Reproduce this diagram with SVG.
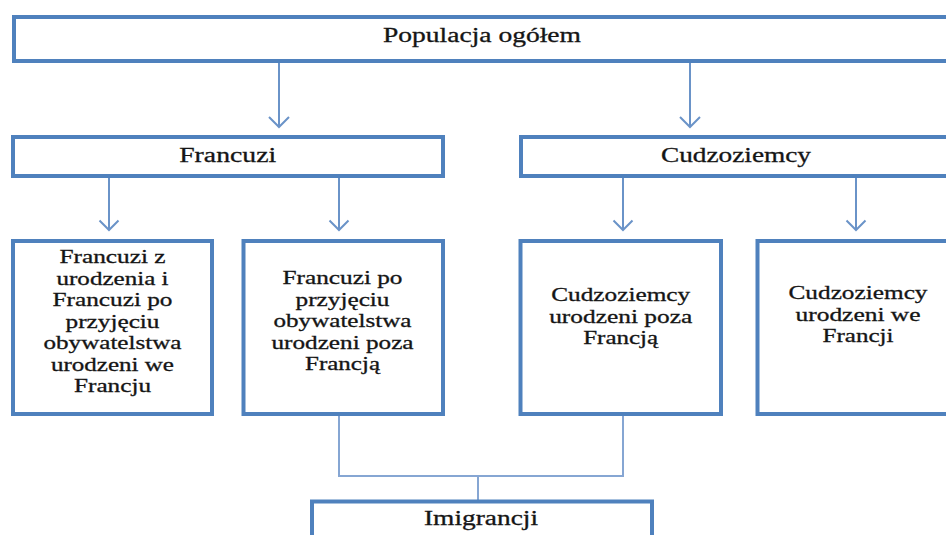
<svg xmlns="http://www.w3.org/2000/svg" width="946" height="535" viewBox="0 0 946 535">
<style>
.box{fill:#fff;stroke:#4f81bd;stroke-width:4}
.t{font-family:"Liberation Serif","Times New Roman",serif;fill:#151515;stroke:#151515;stroke-width:0.3;text-anchor:middle}
.big{font-size:20.5px}
.sm{font-size:19px}
.arr{fill:none;stroke:#6a93c8;stroke-width:2}
.con{fill:none;stroke:#86a6d3;stroke-width:2}
</style>
<rect width="946" height="535" fill="#fff"/>
<g id="connectors">
<path class="arr" d="M279 63V127M269 117L279 127L289 117"/>
<path class="arr" d="M690 63V127M680 117L690 127L700 117"/>
<path class="arr" d="M109 178V230M99.5 220.5L109 230L118.5 220.5"/>
<path class="arr" d="M339 178V230M329.5 220.5L339 230L348.5 220.5"/>
<path class="arr" d="M623 178V230M613.5 220.5L623 230L632.5 220.5"/>
<path class="arr" d="M856 178V230M846.5 220.5L856 230L865.5 220.5"/>
<path class="con" d="M339 415V476H623V415M478 476V500"/>
</g>
<g id="populacja">
<rect class="box" x="14" y="17" width="940" height="44"/>
<text class="t big" x="482" y="42" textLength="198" lengthAdjust="spacingAndGlyphs">Populacja ogółem</text>
</g>
<g id="francuzi">
<rect class="box" x="13" y="137" width="430" height="39"/>
<text class="t big" x="227.7" y="161.5" textLength="97" lengthAdjust="spacingAndGlyphs">Francuzi</text>
</g>
<g id="cudzoziemcy">
<rect class="box" x="521" y="137" width="432" height="39"/>
<text class="t big" x="736" y="161.5" textLength="150" lengthAdjust="spacingAndGlyphs">Cudzoziemcy</text>
</g>
<g id="francuzi-z-urodzenia">
<rect class="box" x="13" y="241" width="199" height="173"/>
<text class="t sm" x="112.5" y="263.3" textLength="106" lengthAdjust="spacingAndGlyphs">Francuzi z</text>
<text class="t sm" x="112.5" y="284.8" textLength="112" lengthAdjust="spacingAndGlyphs">urodzenia i</text>
<text class="t sm" x="112.5" y="306.3" textLength="120" lengthAdjust="spacingAndGlyphs">Francuzi po</text>
<text class="t sm" x="112.5" y="327.8" textLength="94" lengthAdjust="spacingAndGlyphs">przyjęciu</text>
<text class="t sm" x="112.5" y="349.3" textLength="138" lengthAdjust="spacingAndGlyphs">obywatelstwa</text>
<text class="t sm" x="112.5" y="370.8" textLength="123" lengthAdjust="spacingAndGlyphs">urodzeni we</text>
<text class="t sm" x="112.5" y="392.3" textLength="77" lengthAdjust="spacingAndGlyphs">Francju</text>
</g>
<g id="francuzi-po-przyjeciu">
<rect class="box" x="243.5" y="241" width="199.5" height="173"/>
<text class="t sm" x="342.5" y="284" textLength="120" lengthAdjust="spacingAndGlyphs">Francuzi po</text>
<text class="t sm" x="342.5" y="305.5" textLength="94" lengthAdjust="spacingAndGlyphs">przyjęciu</text>
<text class="t sm" x="342.5" y="327" textLength="138" lengthAdjust="spacingAndGlyphs">obywatelstwa</text>
<text class="t sm" x="342.5" y="348.5" textLength="142" lengthAdjust="spacingAndGlyphs">urodzeni poza</text>
<text class="t sm" x="342.5" y="370" textLength="75" lengthAdjust="spacingAndGlyphs">Francją</text>
</g>
<g id="cudzoziemcy-poza">
<rect class="box" x="520.5" y="241" width="200.5" height="173"/>
<text class="t sm" x="620.7" y="301" textLength="139" lengthAdjust="spacingAndGlyphs">Cudzoziemcy</text>
<text class="t sm" x="620.7" y="322.7" textLength="143" lengthAdjust="spacingAndGlyphs">urodzeni poza</text>
<text class="t sm" x="620.7" y="344.3" textLength="75" lengthAdjust="spacingAndGlyphs">Francją</text>
</g>
<g id="cudzoziemcy-we">
<rect class="box" x="757.5" y="241" width="200" height="173"/>
<text class="t sm" x="858" y="299.3" textLength="139" lengthAdjust="spacingAndGlyphs">Cudzoziemcy</text>
<text class="t sm" x="858" y="320.7" textLength="125" lengthAdjust="spacingAndGlyphs">urodzeni we</text>
<text class="t sm" x="858" y="342.3" textLength="71" lengthAdjust="spacingAndGlyphs">Francji</text>
</g>
<g id="imigrancji">
<rect class="box" x="312" y="501.5" width="340" height="60"/>
<text class="t big" x="481" y="525" textLength="114" lengthAdjust="spacingAndGlyphs">Imigrancji</text>
</g>
</svg>
